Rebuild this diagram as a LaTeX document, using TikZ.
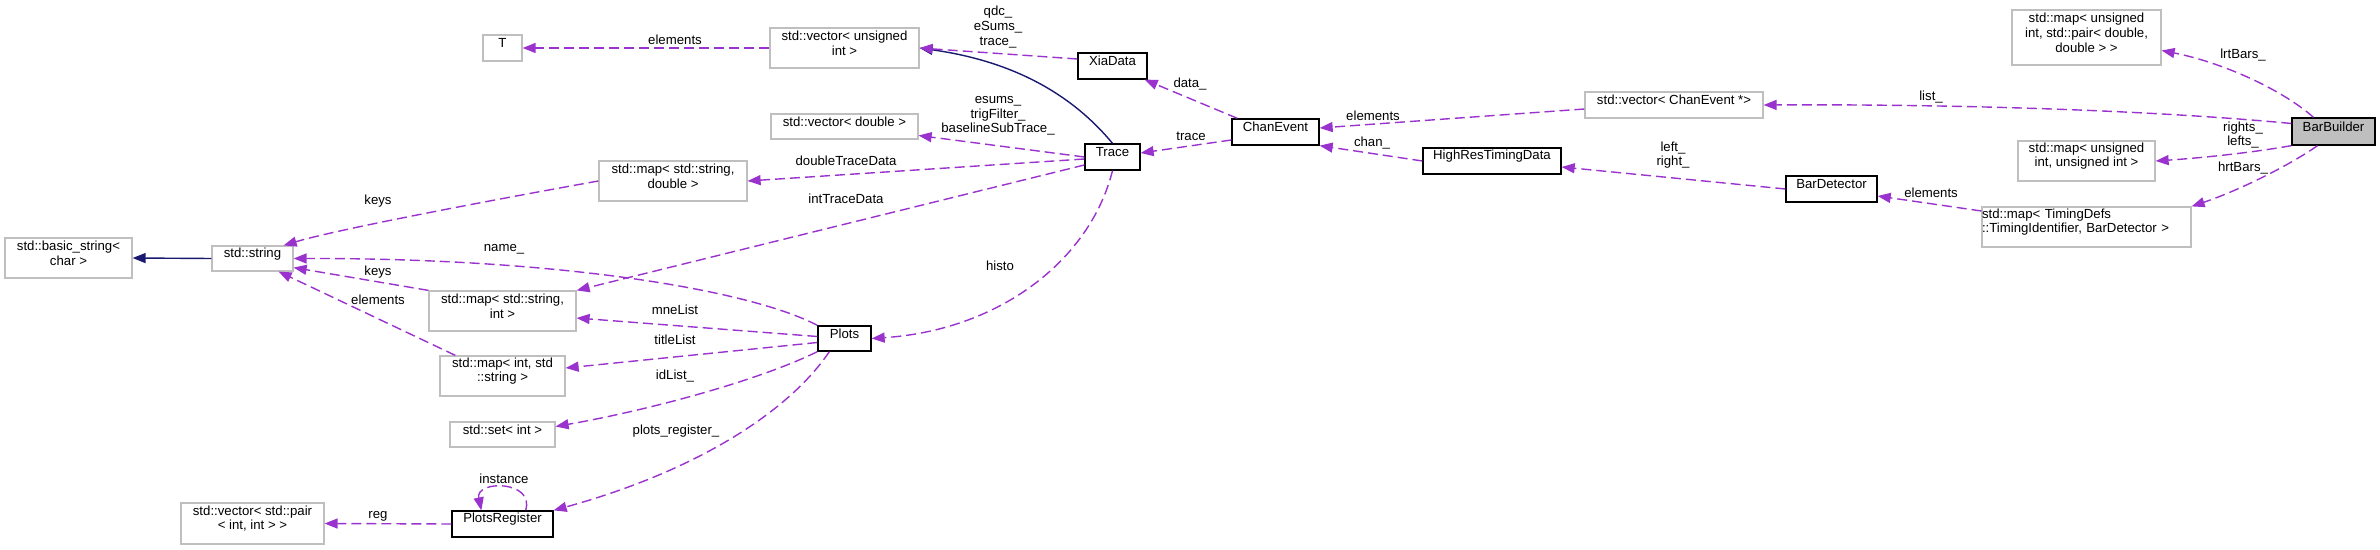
\documentclass[tikz,border=0pt]{standalone}
\usepackage{fontspec}
\setmainfont{Liberation Sans}
\usetikzlibrary{arrows.meta,fit}
\definecolor{edgecol}{HTML}{9A32CD}
\definecolor{inhcol}{HTML}{191970}
\definecolor{boxgray}{HTML}{BFBFBF}

\begin{document}
\begin{tikzpicture}[x=0.5pt,y=-0.5pt,
  font=\fontsize{6.6}{7.3}\selectfont,
  gbox/.style={draw=boxgray, line width=0.6pt, fill=white, inner sep=0pt, align=center},
  kbox/.style={draw=black, line width=0.65pt, fill=white, inner sep=0pt, align=center},
  uses/.style={draw=edgecol, line width=0.7pt, dash pattern=on 5pt off 2.5pt, -{Triangle[length=6.5pt,width=5pt]}},
  inh/.style={draw=inhcol, line width=0.7pt, -{Triangle[length=6.5pt,width=5pt]}},
  lbl/.style={inner sep=0pt, align=center}]
\useasboundingbox (0,0) rectangle (2380,550);

\node[gbox, fit={(483,35) (522,61)}] (T) {T};
\node[gbox, fit={(5,238) (132,278)}] (bstr) {std::basic\_string<\\char >};
\node[gbox, fit={(212,246) (293,271)}] (str) {std::string};
\node[gbox, fit={(770,28) (919,68)}] (vecu) {std::vector< unsigned\\int >};
\node[gbox, fit={(771,114) (918,139)}] (vecd) {std::vector< double >};
\node[gbox, fit={(599,161) (747,201)}] (mapsd) {std::map< std::string,\\double >};
\node[gbox, fit={(429,291) (576,331)}] (mapsi) {std::map< std::string,\\int >};
\node[gbox, fit={(440,356) (565,396)}] (mapis) {std::map< int, std\\::string >};
\node[gbox, fit={(450,422) (555,447)}] (seti) {std::set< int >};
\node[gbox, fit={(181,503) (324,544)}] (vpair) {std::vector< std::pair\\< int, int > >};
\node[kbox, fit={(452,511) (553,537)}] (preg) {PlotsRegister};
\node[kbox, fit={(818,326) (871,351)}] (plots) {Plots};
\node[kbox, fit={(1085,144) (1140,170)}] (trace) {Trace};
\node[kbox, fit={(1078,53) (1147,79)}] (xia) {XiaData};
\node[kbox, fit={(1232,119) (1319,145)}] (chan) {ChanEvent};
\node[kbox, fit={(1423,148) (1561,174)}] (hrt) {HighResTimingData};
\node[gbox, fit={(1585,92) (1763,118)}] (vecce) {std::vector< ChanEvent *>};
\node[kbox, fit={(1786,176) (1877,202)}] (bdet) {BarDetector};
\node[gbox, fit={(2012,10) (2161,65)}] (mapup) {std::map< unsigned\\int, std::pair< double,\\double > >};
\node[gbox, fit={(2018,141) (2155,181)}] (mapuu) {std::map< unsigned\\int, unsigned int >};
\node[gbox, fit={(1982,207) (2191,247)}, align=left] (maptd) {std::map< TimingDefs\\::TimingIdentifier, BarDetector >};
\node[kbox, fill=boxgray, fit={(2292,118) (2375,145)}] (bb) {BarBuilder};

\draw[inh] (str.west) -- (bstr.east);
\draw[inh] (trace.north) .. controls (1060,80) and (990,58) .. (vecu.east);

\draw[uses] (vecu.west) -- (T.east);
\draw[uses] ([yshift=3.5pt]xia.west) -- (vecu.east);
\draw[uses] (trace.west) -- ([yshift=-4.5pt]vecd.east);
\draw[uses] ([yshift=-1pt]trace.west) -- (mapsd.east);
\draw[uses] ([yshift=-4pt]trace.west) -- (mapsi.north east);
\draw[uses] (plots.north west) .. controls (750,290) and (560,258) .. (str.east);
\draw[uses] (mapsd.west) .. controls (520,195) and (342,228) .. ([xshift=-5pt]str.north east);
\draw[uses] (mapsi.north west) -- ([yshift=2pt]str.south east);
\draw[uses] ([xshift=8pt]mapis.north west) -- ([xshift=-7.5pt]str.south east);
\draw[uses] ([yshift=1pt]plots.west) -- ([yshift=-3.5pt]mapsi.east);
\draw[uses] ([yshift=-2pt]plots.west) -- ([yshift=4pt]mapis.east);
\draw[uses] (plots.south west) .. controls (760,380) and (650,410) .. ([yshift=4pt]seti.east);
\draw[uses] ([xshift=6pt]plots.south west) .. controls (790,410) and (700,470) .. (preg.north east);
\draw[uses] ([xshift=-14pt]preg.north east) .. controls (535,480) and (475,480) .. ([xshift=15pt]preg.north west);
\draw[uses] (preg.west) -- (vpair.east);
\draw[uses] (trace.south) .. controls (1090,260) and (1000,330) .. (plots.east);
\draw[uses] ([xshift=3pt]chan.north west) -- ([xshift=-1.5pt]xia.south east);
\draw[uses] ([yshift=-4pt]chan.west) -- ([yshift=2pt]trace.east);
\draw[uses] ([yshift=-2pt]vecce.west) -- ([yshift=2pt]chan.east);
\draw[uses] (hrt.west) -- (chan.south east);
\draw[uses] (bdet.west) -- ([yshift=-3pt]hrt.east);
\draw[uses] ([yshift=8pt]maptd.west) -- ([yshift=-3.5pt]bdet.east);
\draw[uses] ([yshift=4pt]bb.west) .. controls (2150,110) and (1950,104) .. (vecce.east);
\draw[uses] ([xshift=-10pt]bb.north) .. controls (2280,88) and (2220,62) .. ([yshift=-6.5pt]mapup.east);
\draw[uses] (bb.south west) .. controls (2250,153) and (2200,158) .. (mapuu.east);
\draw[uses] ([xshift=-8pt]bb.south) .. controls (2290,165) and (2240,190) .. (maptd.north east);

\node[lbl] (l-tel) at (675,40) {elements};
\node[lbl] (l-xia) at (998,27) {qdc\_\\eSums\_\\trace\_};
\node[lbl] (l-trvd) at (998,116) {esums\_\\trigFilter\_\\baselineSubTrace\_};
\node[lbl] (l-dtd) at (846,161) {doubleTraceData};
\node[lbl] (l-itd) at (846,199) {intTraceData};
\node[lbl] (l-keys1) at (378,201) {keys};
\node[lbl] (l-name) at (504,249) {name\_};
\node[lbl] (l-keys2) at (378,272) {keys};
\node[lbl] (l-elem) at (378,300) {elements};
\node[lbl] (l-mne) at (675,310) {mneList};
\node[lbl] (l-title) at (675,340) {titleList};
\node[lbl] (l-id) at (675,376) {idList\_};
\node[lbl] (l-preg) at (676,431) {plots\_register\_};
\node[lbl] (l-inst) at (504,479) {instance};
\node[lbl] (l-reg) at (378,516) {reg};
\node[lbl] (l-histo) at (1000,266) {histo};
\node[lbl] (l-data) at (1190,84) {data\_};
\node[lbl] (l-trace) at (1191,136) {trace};
\node[lbl] (l-ceel) at (1373,116) {elements};
\node[lbl] (l-chan) at (1372,143) {chan\_};
\node[lbl] (l-lr) at (1673,155) {left\_\\right\_};
\node[lbl] (l-bdel) at (1931,193) {elements};
\node[lbl] (l-list) at (1931,97) {list\_};
\node[lbl] (l-lrt) at (2243,55) {lrtBars\_};
\node[lbl] (l-rl) at (2243,135) {rights\_\\lefts\_};
\node[lbl] (l-hrt) at (2243,168) {hrtBars\_};
\end{tikzpicture}
\end{document}
